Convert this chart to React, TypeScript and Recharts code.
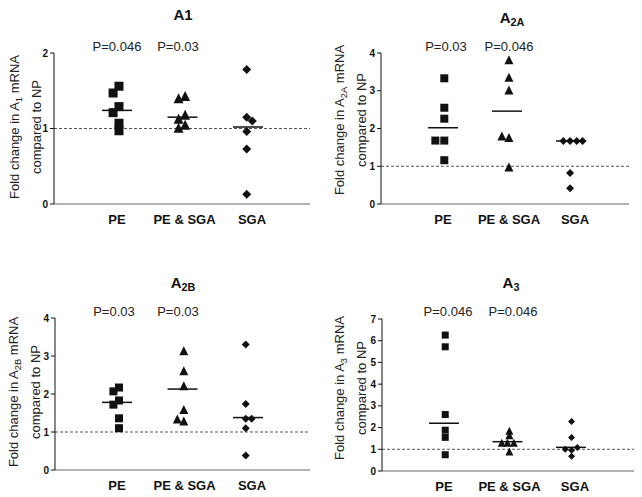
import React from 'react';
import { ScatterChart, Scatter, XAxis, YAxis, ReferenceLine } from 'recharts';

const GROUPS = ['PE', 'PE & SGA', 'SGA'];

// A1
const a1PE = [1.56, 1.47, 1.29, 1.21, 1.07, 0.97];
const a1PEJit = [0.03, -0.06, 0.03, -0.06, 0.03, 0.03];
const a1Both = [1.42, 1.39, 1.17, 1.12, 1.04, 1.0];
const a1BothJit = [0.04, -0.06, 0.04, -0.06, 0.04, -0.06];
const a1SGA = [1.78, 1.15, 1.1, 0.96, 0.73, 0.13];
const a1SGAJit = [-0.02, -0.02, 0.065, -0.02, -0.02, -0.02];
const a1Median = [1.24, 1.15, 1.02];
const a1P = ['P=0.046', 'P=0.03'];

// A2A
const a2aPE = [3.33, 2.55, 2.26, 1.68, 1.68, 1.16];
const a2aPEJit = [0.02, 0.02, 0.02, -0.12, 0.02, 0.02];
const a2aBoth = [3.8, 3.34, 3.0, 1.78, 1.74, 0.96];
const a2aBothJit = [0.03, 0.03, 0.03, -0.08, 0.03, 0.03];
const a2aSGA = [1.67, 1.67, 1.67, 1.67, 0.82, 0.42];
const a2aSGAJit = [-0.12, -0.015, 0.09, 0.18, -0.015, -0.015];
const a2aMedian = [2.02, 2.46, 1.67];
const a2aP = ['P=0.03', 'P=0.046'];

// A2B
const a2bPE = [2.17, 2.07, 1.83, 1.72, 1.36, 1.1];
const a2bPEJit = [0.03, -0.055, 0.03, -0.055, 0.03, 0.03];
const a2bBoth = [3.12, 2.59, 2.2, 1.57, 1.32, 1.27];
const a2bBothJit = [0.02, 0.02, 0.02, 0.02, -0.08, 0.02];
const a2bSGA = [3.3, 1.74, 1.35, 1.35, 1.1, 0.38];
const a2bSGAJit = [-0.035, -0.035, -0.035, 0.055, -0.035, -0.035];
const a2bMedian = [1.78, 2.13, 1.38];
const a2bP = ['P=0.03', 'P=0.03'];

// A3
const a3PE = [6.26, 5.72, 2.6, 1.88, 1.55, 0.75];
const a3PEJit = [0.02, 0.02, 0.02, 0.02, 0.02, 0.02];
const a3Both = [1.82, 1.62, 1.27, 1.27, 1.27, 0.87];
const a3BothJit = [0.03, 0.03, -0.09, 0.0, 0.1, 0.03];
const a3SGA = [2.28, 1.54, 1.0, 0.95, 1.08, 0.68];
const a3SGAJit = [0.01, 0.01, -0.09, 0.01, 0.1, 0.01];
const a3Median = [2.2, 1.35, 1.09];
const a3P = ['P=0.046', 'P=0.046'];

const FONT = '"Liberation Sans", Arial, sans-serif';
const INK = '#111';

const toPoints = (vals: number[], jit: number[], g: number) =>
  vals.map((y, i) => ({ x: g + 1 + jit[i], y }));

const squareShape = (s: number) => (p: any) => (
  <rect x={p.cx - s / 2} y={p.cy - s / 2} width={s} height={s} fill={INK} />
);
const triangleShape = (s: number) => (p: any) => (
  <path
    d={`M${p.cx},${p.cy - s * 0.58}L${p.cx + s / 2},${p.cy + s * 0.42}L${p.cx - s / 2},${p.cy + s * 0.42}Z`}
    fill={INK}
  />
);
const diamondShape = (s: number) => (p: any) => (
  <path
    d={`M${p.cx},${p.cy - s / 2}L${p.cx + s / 2},${p.cy}L${p.cx},${p.cy + s / 2}L${p.cx - s / 2},${p.cy}Z`}
    fill={INK}
  />
);
const medianShape = (p: any) => (
  <line x1={p.cx - 15} x2={p.cx + 15} y1={p.cy} y2={p.cy} stroke={INK} strokeWidth={1.5} />
);

const Sub = ({ children }: { children: React.ReactNode }) => (
  <span style={{ fontSize: '0.72em', verticalAlign: '-0.28em' }}>{children}</span>
);

const XTick = (props: any) => {
  const { x, y, payload } = props;
  const dx = [0, 2, 4][payload.value - 1] || 0;
  return (
    <text x={x + dx} y={y} dy={12} textAnchor="middle" fontSize={13} fontWeight="bold" fill={INK} fontFamily={FONT}>
      {GROUPS[payload.value - 1]}
    </text>
  );
};

type Cfg = {
  left: number; top: number; w: number; h: number;
  axisX: number; axisRight: number; yTop: number; yBottom: number;
  ticks: number[]; xDom: [number, number];
  title: string; titleSub: string; titleX: number; titleY: number;
  pLabels: string[]; pX: number[]; pY: number;
  labelSub: string; labelX: number; labelY: number;
  pe: number[]; peJ: number[]; both: number[]; bothJ: number[]; sga: number[]; sgaJ: number[];
  med: number[]; size: number;
};

const Panel = ({ c }: { c: Cfg }) => {
  const yAxisW = 30;
  const xAxisH = 20;
  const margin = {
    left: c.axisX - c.left - yAxisW,
    right: c.left + c.w - c.axisRight,
    top: c.yTop - c.top,
    bottom: c.top + c.h - c.yBottom - xAxisH,
  };
  const medData = c.med.map((y, g) => ({ x: g + 1, y }));
  return (
    <>
      <div style={{ position: 'absolute', left: c.left, top: c.top }}>
        <ScatterChart width={c.w} height={c.h} margin={margin}>
          <XAxis
            type="number" dataKey="x" domain={c.xDom} ticks={[1, 2, 3]} height={xAxisH}
            tick={<XTick />} tickLine={false} axisLine={{ stroke: '#999', strokeWidth: 1.5 }}
            allowDataOverflow
          />
          <YAxis
            type="number" dataKey="y" domain={[0, c.ticks[c.ticks.length - 1]]} ticks={c.ticks}
            width={yAxisW} tickSize={4} interval={0}
            tick={{ fontSize: 10, fontWeight: 'bold', fill: INK, fontFamily: FONT }}
            axisLine={{ stroke: INK }} tickLine={{ stroke: INK }}
          />
          <ReferenceLine y={1} stroke="#555" strokeDasharray="3 2" />
          <Scatter data={toPoints(c.pe, c.peJ, 0)} shape={squareShape(c.size)} isAnimationActive={false} />
          <Scatter data={toPoints(c.both, c.bothJ, 1)} shape={triangleShape(c.size + 1)} isAnimationActive={false} />
          <Scatter data={toPoints(c.sga, c.sgaJ, 2)} shape={diamondShape(c.size)} isAnimationActive={false} />
          <Scatter data={medData} shape={medianShape} isAnimationActive={false} />
        </ScatterChart>
      </div>
      <div
        style={{
          position: 'absolute', left: c.titleX - 50, top: c.titleY - 10, width: 100, textAlign: 'center',
          fontSize: 15, fontWeight: 'bold', lineHeight: '20px', color: INK,
        }}
      >
        {c.title}
        {c.titleSub && <Sub>{c.titleSub}</Sub>}
      </div>
      {c.pLabels.map((t, i) => (
        <div
          key={i}
          style={{
            position: 'absolute', left: c.pX[i] - 40, top: c.pY - 9, width: 80, textAlign: 'center',
            fontSize: 13, lineHeight: '18px', color: '#222',
          }}
        >
          {t}
        </div>
      ))}
      <div
        style={{
          position: 'absolute', left: c.labelX - 100, top: c.labelY - 17, width: 200, height: 34,
          transform: 'rotate(-90deg)', textAlign: 'center', fontSize: 13, lineHeight: '17px', color: '#222',
        }}
      >
        Fold change in A<Sub>{c.labelSub}</Sub> mRNA
        <br />
        compared to NP
      </div>
    </>
  );
};

const panels: Cfg[] = [
  {
    left: 0, top: 0, w: 321, h: 250, axisX: 54, axisRight: 310, yTop: 53, yBottom: 204,
    ticks: [0, 1, 2], xDom: [0.038, 3.946], title: 'A1', titleSub: '', titleX: 183, titleY: 15,
    pLabels: a1P, pX: [117, 178], pY: 47, labelSub: '1', labelX: 23, labelY: 127,
    pe: a1PE, peJ: a1PEJit, both: a1Both, bothJ: a1BothJit, sga: a1SGA, sgaJ: a1SGAJit, med: a1Median, size: 9,
  },
  {
    left: 321, top: 0, w: 321, h: 250, axisX: 381, axisRight: 629, yTop: 53, yBottom: 204,
    ticks: [0, 1, 2, 3, 4], xDom: [0.031, 3.906], title: 'A', titleSub: '2A', titleX: 512, titleY: 18,
    pLabels: a2aP, pX: [446, 509], pY: 47, labelSub: '2A', labelX: 348, labelY: 120,
    pe: a2aPE, peJ: a2aPEJit, both: a2aBoth, bothJ: a2aBothJit, sga: a2aSGA, sgaJ: a2aSGAJit, med: a2aMedian, size: 8,
  },
  {
    left: 0, top: 250, w: 321, h: 247, axisX: 55, axisRight: 310, yTop: 318, yBottom: 470,
    ticks: [0, 1, 2, 3, 4], xDom: [0.053, 3.946], title: 'A', titleSub: '2B', titleX: 183, titleY: 283,
    pLabels: a2bP, pX: [114, 178], pY: 312, labelSub: '2B', labelX: 22, labelY: 392,
    pe: a2bPE, peJ: a2bPEJit, both: a2bBoth, bothJ: a2bBothJit, sga: a2bSGA, sgaJ: a2bSGAJit, med: a2bMedian, size: 8,
  },
  {
    left: 321, top: 250, w: 321, h: 247, axisX: 382, axisRight: 634, yTop: 319, yBottom: 471,
    ticks: [0, 1, 2, 3, 4, 5, 6, 7], xDom: [0.024, 3.993], title: 'A', titleSub: '3', titleX: 511, titleY: 283,
    pLabels: a3P, pX: [448, 513], pY: 312, labelSub: '3', labelX: 348, labelY: 388,
    pe: a3PE, peJ: a3PEJit, both: a3Both, bothJ: a3BothJit, sga: a3SGA, sgaJ: a3SGAJit, med: a3Median, size: 7,
  },
];

export default function App() {
  return (
    <div
      style={{
        position: 'absolute', left: 0, top: 0, width: 642, height: 497, background: '#fff',
        fontFamily: FONT, overflow: 'hidden',
      }}
    >
      {panels.map((c, i) => (
        <Panel key={i} c={c} />
      ))}
    </div>
  );
}
